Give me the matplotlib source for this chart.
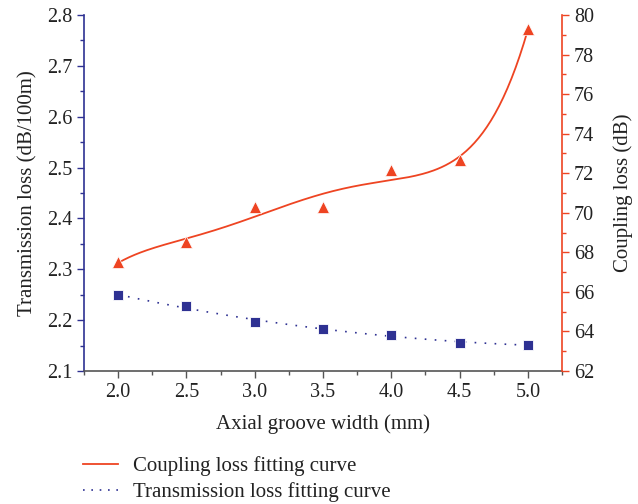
import numpy as np
import matplotlib
matplotlib.use("Agg")
import matplotlib.pyplot as plt
from matplotlib.lines import Line2D
from matplotlib.ticker import MultipleLocator

plt.rcParams['font.family'] = ['Liberation Serif', 'DejaVu Serif']

groove_width = [2.0, 2.5, 3.0, 3.5, 4.0, 4.5, 5.0]
transmission_loss = [2.249, 2.228, 2.196, 2.183, 2.171, 2.156, 2.151]
coupling_loss = [67.5, 68.5, 70.3, 70.3, 72.15, 72.65, 79.3]

RED = '#EE4422'
BLUE = '#2E3192'
GRAY = '#555555'
TXT = '#222222'
FS = 14.5

fig = plt.figure(figsize=(6.38, 5.04), dpi=100)
ax = fig.add_axes([0.1317, 0.2639, 0.7493, 0.7063])
ax2 = ax.twinx()

x = np.array(groove_width)
xf = np.linspace(x.min(), x.max(), 300)
pc = np.polyfit(x, coupling_loss, 5)
pt = np.polyfit(x, transmission_loss, 3)

ax.plot(xf, np.polyval(pt, xf), color=BLUE, ls=(0, (1, 5)), lw=1.2)
ax.plot(x, transmission_loss, 's', color=BLUE, ms=6.5, mec='white', mew=0.6, ls='none')
ax2.plot(xf, np.polyval(pc, xf), color=RED, lw=1.3)
ax2.plot(x, coupling_loss, '^', color=RED, ms=8.5, mec='white', mew=0.5, ls='none')

ax.set_xlim(1.75, 5.25)
ax.set_ylim(2.1, 2.8)
ax2.set_ylim(62, 80)
ax.xaxis.set_major_locator(MultipleLocator(0.5))
ax.xaxis.set_minor_locator(MultipleLocator(0.25))
ax.yaxis.set_major_locator(MultipleLocator(0.1))
ax.yaxis.set_minor_locator(MultipleLocator(0.05))
ax2.yaxis.set_major_locator(MultipleLocator(2))
ax2.yaxis.set_minor_locator(MultipleLocator(1))
ax.xaxis.set_major_formatter(matplotlib.ticker.FormatStrFormatter('%.1f'))
ax.yaxis.set_major_formatter(matplotlib.ticker.FormatStrFormatter('%.1f'))

for a in (ax, ax2):
    a.spines['top'].set_visible(False)
ax.spines['right'].set_visible(False)
ax2.spines['left'].set_visible(False)
ax2.spines['bottom'].set_visible(False)
ax.spines['left'].set_color(BLUE)
ax.spines['bottom'].set_color(GRAY)
ax2.spines['right'].set_color(RED)
for s in (ax.spines['left'], ax.spines['bottom'], ax2.spines['right']):
    s.set_linewidth(1.2)

ax.tick_params(axis='y', which='both', colors=BLUE, labelcolor=TXT, direction='out', labelsize=FS)
ax.tick_params(axis='y', which='major', length=5, width=1)
ax.tick_params(axis='y', which='minor', length=3, width=1)
ax.tick_params(axis='x', which='both', colors=GRAY, labelcolor=TXT, direction='out', labelsize=FS)
ax.tick_params(axis='x', which='major', length=5, width=1)
ax.tick_params(axis='x', which='minor', length=3, width=1)
ax2.tick_params(axis='y', which='both', colors=RED, labelcolor=TXT, direction='out', labelsize=FS)
ax2.tick_params(axis='y', which='major', length=5, width=1)
ax2.tick_params(axis='y', which='minor', length=3, width=1)

ax.set_xlabel('Axial groove width (mm)', fontsize=15, color=TXT, labelpad=9)
ax.set_ylabel('Transmission loss (dB/100m)', fontsize=15, color=TXT, labelpad=7)
ax2.set_ylabel('Coupling loss (dB)', fontsize=15, color=TXT, labelpad=14)

handles = [Line2D([], [], color=RED, lw=1.3),
           Line2D([], [], color=BLUE, ls=(0, (1, 4)), lw=1.2)]
fig.legend(handles, ['Coupling loss fitting curve', 'Transmission loss fitting curve'],
           loc='upper left', bbox_to_anchor=(0.13, 0.095), frameon=False, fontsize=15,
           handlelength=1.7, handletextpad=0.7, borderpad=0, borderaxespad=0,
           labelspacing=0.3, labelcolor=TXT)

fig.savefig('out.png', dpi=100)
